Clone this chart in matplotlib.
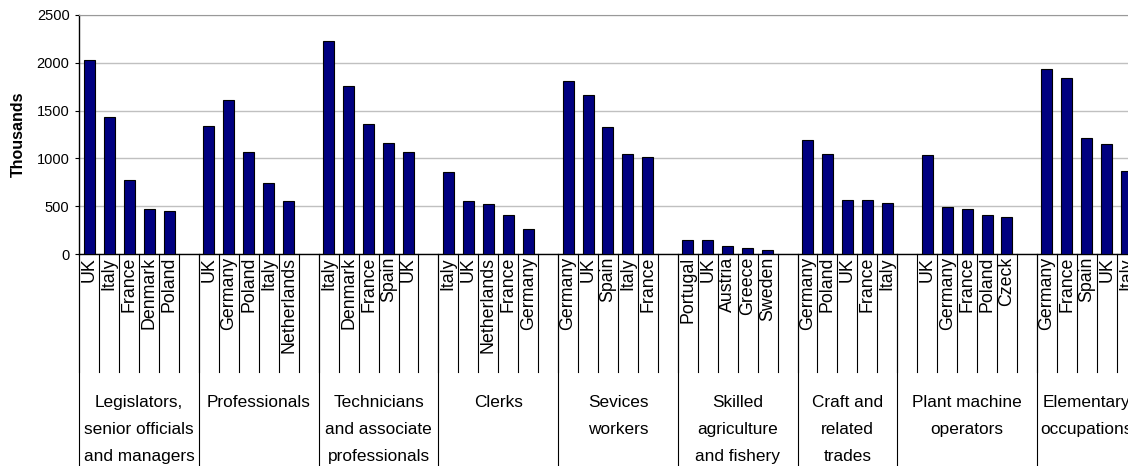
import numpy as np
import matplotlib.pyplot as plt
from matplotlib.transforms import blended_transform_factory

plt.rcParams['font.family'] = ['Liberation Sans', 'DejaVu Sans']

# occupation groups (second level of the category axis)
occupations = [
    'Legislators,\nsenior officials\nand managers',
    'Professionals',
    'Technicians\nand associate\nprofessionals',
    'Clerks',
    'Sevices\nworkers',
    'Skilled\nagriculture\nand fishery',
    'Craft and\nrelated\ntrades',
    'Plant machine\noperators',
    'Elementary\noccupations',
]

legislators_countries = ['UK', 'Italy', 'France', 'Denmark', 'Poland']
legislators_values = [2030, 1435, 775, 470, 455]

professionals_countries = ['UK', 'Germany', 'Poland', 'Italy', 'Netherlands']
professionals_values = [1340, 1615, 1065, 745, 550]

technicians_countries = ['Italy', 'Denmark', 'France', 'Spain', 'UK']
technicians_values = [2225, 1757, 1355, 1165, 1065]

clerks_countries = ['Italy', 'UK', 'Netherlands', 'France', 'Germany']
clerks_values = [858, 550, 518, 405, 260]

services_countries = ['Germany', 'UK', 'Spain', 'Italy', 'France']
services_values = [1806, 1660, 1325, 1049, 1018]

agriculture_countries = ['Portugal', 'UK', 'Austria', 'Greece', 'Sweden']
agriculture_values = [150, 150, 84, 66, 38]

craft_countries = ['Germany', 'Poland', 'UK', 'France', 'Italy']
craft_values = [1192, 1049, 565, 565, 537]

plant_countries = ['UK', 'Germany', 'France', 'Poland', 'Czeck']
plant_values = [1032, 488, 471, 405, 390]

elementary_countries = ['Germany', 'France', 'Spain', 'UK', 'Italy']
elementary_values = [1935, 1838, 1210, 1147, 871]

group_countries = [legislators_countries, professionals_countries, technicians_countries,
                   clerks_countries, services_countries, agriculture_countries,
                   craft_countries, plant_countries, elementary_countries]
group_values = [legislators_values, professionals_values, technicians_values,
                clerks_values, services_values, agriculture_values,
                craft_values, plant_values, elementary_values]

# empty category slots before / after each group in the source sheet
blank_before = [0, 0, 0, 0, 0, 0, 0, 1, 0]
blank_after = [1, 1, 1, 1, 1, 1, 0, 1, 0]

# lay the categories out one slot each
xs, heights, names = [], [], []
group_edges = [-0.5]
pos = 0
for countries, values, b0, b1 in zip(group_countries, group_values, blank_before, blank_after):
    pos += b0
    for c, v in zip(countries, values):
        xs.append(pos)
        heights.append(v)
        names.append(c)
        pos += 1
    pos += b1
    group_edges.append(pos - 0.5)
n_slots = pos

W, H = 1128, 466
fig = plt.figure(figsize=(W / 100, H / 100), dpi=100)
slot_px = 19.95
ax_left, ax_top, ax_bottom = 79.3, 15, 254
ax = fig.add_axes([ax_left / W, (H - ax_bottom) / H,
                   n_slots * slot_px / W, (ax_bottom - ax_top) / H])
ax_h = ax_bottom - ax_top

ax.bar(xs, heights, width=0.55, color='#000080', edgecolor='black', linewidth=0.8, zorder=3)

ax.set_xlim(-0.5, n_slots - 0.5)
ax.set_ylim(0, 2500)
ax.set_yticks(np.arange(0, 2501, 500))
ax.yaxis.grid(True, color='#c0c0c0', linewidth=1)
ax.set_axisbelow(True)
ax.set_xticks([])
ax.tick_params(axis='y', direction='out', length=3, width=0.8, pad=4, labelsize=10.5)
ax.spines['top'].set_color('#999999')
ax.spines['right'].set_visible(False)
ax.spines['left'].set_linewidth(1)
ax.spines['bottom'].set_linewidth(1)

trans = blended_transform_factory(ax.transData, ax.transAxes)

# country labels and the short divider lines between them
for x, name in zip(xs, names):
    ax.text(x, -3 / ax_h, name, rotation=90, ha='center', va='top',
            fontsize=12.8, transform=trans)
for b in np.arange(-0.5, n_slots, 1.0):
    ax.plot([b, b], [0, -118 / ax_h], color='black', lw=0.8,
            transform=trans, clip_on=False)

# occupation labels and the long dividers
for e in group_edges:
    ax.plot([e, e], [0, -230 / ax_h], color='black', lw=0.8,
            transform=trans, clip_on=False)
for lo, hi, label in zip(group_edges[:-1], group_edges[1:], occupations):
    ax.text((lo + hi) / 2, -141 / ax_h, label, ha='center', va='top',
            fontsize=12.4, linespacing=2.0, transform=trans)

fig.text(18 / W, 1 - (ax_top + ax_bottom) / 2 / H, 'Thousands', rotation=90,
         ha='center', va='center', fontsize=11.5, fontweight='bold')

fig.savefig('out.png', dpi=100)
